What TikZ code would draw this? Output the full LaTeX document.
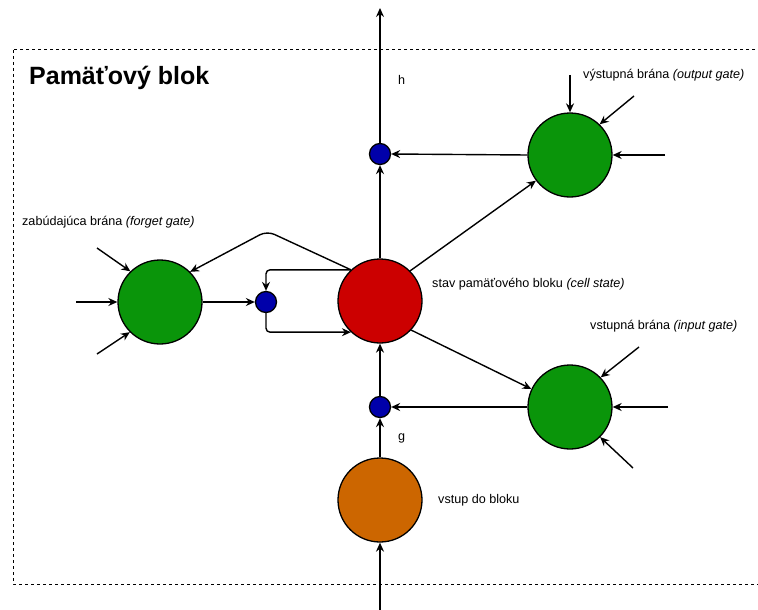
\documentclass[tikz,border=0pt]{standalone}
\usepackage{fontspec}
\setmainfont{Liberation Sans}
\usetikzlibrary{arrows.meta}
\definecolor{gatec}{HTML}{0A950A}
\definecolor{cellc}{HTML}{CC0000}
\definecolor{inpc}{HTML}{CC6600}
\definecolor{mulc}{HTML}{0000AA}
\tikzset{
  big/.style={circle,draw=black,line width=1.3pt,minimum size=84pt,inner sep=0pt},
  gatenode/.style={big,fill=gatec},
  mul/.style={circle,draw=black,line width=1.3pt,fill=mulc,minimum size=21pt,inner sep=0pt},
  arr/.style={line width=1.4pt,-{Stealth[length=9pt,width=8pt,inset=3pt]}},
  lbl/.style={font=\fontsize{12.6}{15}\selectfont,anchor=west,inner sep=0pt},
}
\begin{document}
\begin{tikzpicture}[x=1pt,y=-1pt]
\useasboundingbox (0,0) rectangle (758,610);
\clip (0,0) rectangle (758,610);
\draw[line width=1pt,dash pattern=on 3pt off 3pt] (13,50) rectangle (780,584);
\node[anchor=west,inner sep=0pt,font=\fontsize{25}{30}\selectfont\bfseries] (title) at (29,78) {Pamäťový blok};

\node[big,fill=cellc] (cell) at (380,301) {};
\node[gatenode] (forget) at (160,302) {};
\node[gatenode] (outg) at (570,155) {};
\node[gatenode] (ing) at (570,407) {};
\node[big,fill=inpc] (inp) at (380,500) {};
\node[mul] (mf) at (266,302) {};
\node[mul] (mo) at (380,154) {};
\node[mul] (mi) at (380,407) {};

% labels
\node[lbl] (lout) at (583,75) {výstupná brána \textit{(output gate)}};
\node[lbl] (lforget) at (22,222) {zabúdajúca brána \textit{(forget gate)}};
\node[lbl] (lcell) at (432,284) {stav pamäťového bloku \textit{(cell state)}};
\node[lbl] (lin) at (590,326) {vstupná brána \textit{(input gate)}};
\node[lbl] (lg) at (398,438) {g};
\node[lbl] (lh) at (398,80) {h};
\node[lbl] (linp) at (438,500) {vstup do bloku};

% free ends
\coordinate (top) at (380,8);
\coordinate (bot) at (380,612);
\coordinate (o1) at (570,75);
\coordinate (o2) at (634,96);
\coordinate (o3) at (665,155);
\coordinate (i1) at (639,347);
\coordinate (i2) at (668,407);
\coordinate (i3) at (633,468);
\coordinate (f1) at (97,248);
\coordinate (f2) at (76,302);
\coordinate (f3) at (97,354);
\coordinate (peak) at (267,231);
\coordinate (cs) at (cell.133);

% main vertical path
\draw[arr] (bot) -- (inp.south);
\draw[arr] (inp.north) -- (mi.south);
\draw[arr] (mi.north) -- (cell.south);
\draw[arr] (cell.north) -- (mo.south);
\draw[arr] (mo.north) -- (top);

% gates to multipliers
\draw[arr] (ing.west) -- (mi.east);
\draw[arr] (outg.west) -- (mo.east);
\draw[arr] (forget.east) -- (mf.west);

% cell to gates
\draw[arr] (cell.45) -- (outg.217);
\draw[arr] (cell.-43) -- (ing.155);
\draw[arr,rounded corners=8pt] (cs) -- (peak) -- (forget.45);

% cell self loop through forget multiplier
\draw[arr,rounded corners=4pt] (cs) -- (mf |- cs) -- (mf.north);
\draw[arr,rounded corners=4pt] (mf.south) |- (cell.227);

% external inputs
\draw[arr] (o1) -- (outg.north);
\draw[arr] (o2) -- (outg.46);
\draw[arr] (o3) -- (outg.east);
\draw[arr] (i1) -- (ing.44);
\draw[arr] (i2) -- (ing.east);
\draw[arr] (i3) -- (ing.-45);
\draw[arr] (f1) -- (forget.134);
\draw[arr] (f2) -- (forget.west);
\draw[arr] (f3) -- (forget.225);
\end{tikzpicture}
\end{document}
